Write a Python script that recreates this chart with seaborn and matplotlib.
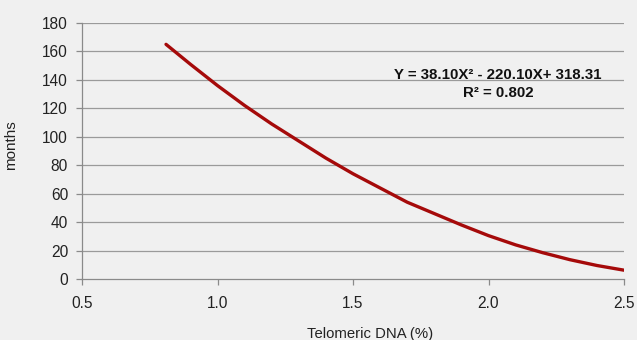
import matplotlib
matplotlib.use("Agg")
import matplotlib.pyplot as plt
import seaborn as sns
import pandas as pd

# Values
telomeric_dna = [0.81, 0.9, 1.0, 1.1, 1.2, 1.3, 1.4, 1.5, 1.6, 1.7, 1.8, 1.9, 2.0, 2.1, 2.2, 2.3, 2.4, 2.5]
months = [165, 151, 136, 122, 109, 97, 85, 74, 64, 54, 46, 38, 30.5, 24, 18.5, 13.6, 9.5, 6.2]
x_ticks = [0.5, 1.0, 1.5, 2.0, 2.5]
x_tick_labels = ["0.5", "1.0", "1.5", "2.0", "2.5"]
y_ticks = [0, 20, 40, 60, 80, 100, 120, 140, 160, 180]
equation = "Y = 38.10X\u00b2 - 220.10X+ 318.31"
r_squared = "R\u00b2 = 0.802"

sns.set_theme(style="white")
plt.rcParams['font.family'] = ['Liberation Sans', 'DejaVu Sans']

bg = "#f0f0f0"
fig = plt.figure(figsize=(6.37, 3.40), dpi=100, facecolor=bg)
ax = fig.add_axes([82/637, 1-279/340, 542/637, 256/340])
ax.set_facecolor(bg)

df = pd.DataFrame({"x": telomeric_dna, "y": months})
sns.lineplot(data=df, x="x", y="y", ax=ax, color="#a50a0a", linewidth=2.4)

ax.set_xlim(0.5, 2.5)
ax.set_ylim(0, 180)
ax.set_xticks(x_ticks)
ax.set_xticklabels(x_tick_labels)
ax.set_yticks(y_ticks)
for yv in y_ticks[1:]:
    ax.axhline(yv, color="#9a9a9a", linewidth=0.9, zorder=0)

for s in ["top", "right"]:
    ax.spines[s].set_visible(False)
for s in ["left", "bottom"]:
    ax.spines[s].set_color("#8a8a8a")
    ax.spines[s].set_linewidth(0.9)

ax.tick_params(axis="both", which="major", labelsize=11.2, colors="#8a8a8a",
               labelcolor="#222222", length=4, width=0.9, direction="out")
ax.tick_params(axis="x", pad=8)
ax.tick_params(axis="y", pad=6)
ax.xaxis.set_ticks_position("bottom")
ax.yaxis.set_ticks_position("left")

ax.set_xlabel("Telomeric DNA (%)", fontsize=10.7, color="#222222")
ax.set_ylabel("months", fontsize=11, color="#222222")
ax.xaxis.set_label_coords((370-82)/542, (279-327)/256)
ax.yaxis.set_label_coords((18-82)/542, (279-145)/256)

ax.text(2.035, 143.5, equation, ha="center", va="center", fontsize=10.8, fontweight="bold", color="#111111")
ax.text(2.035, 130.8, r_squared, ha="center", va="center", fontsize=10.8, fontweight="bold", color="#111111")

fig.savefig("out.png", dpi=100, facecolor=bg)
